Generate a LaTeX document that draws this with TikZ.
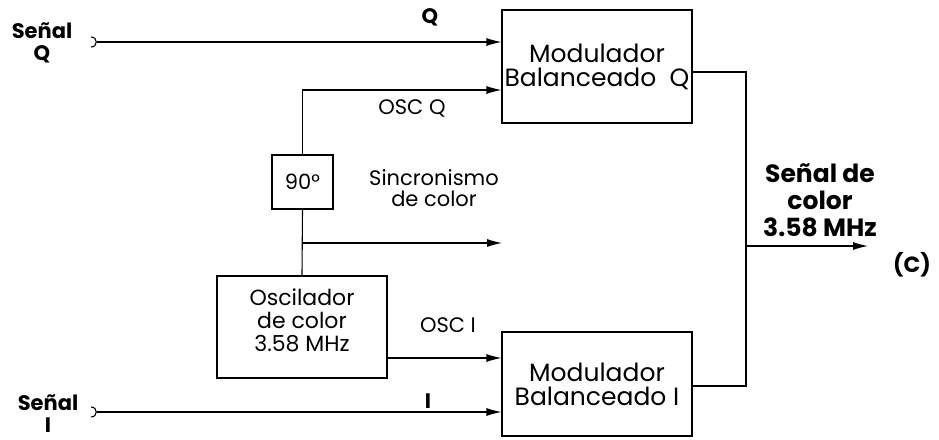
\documentclass[tikz,border=0pt]{standalone}
\usepackage{fontspec}
\setmainfont{Poppins}
\usetikzlibrary{arrows.meta,calc}

\tikzset{
  blk/.style={draw, line width=1.1pt, inner sep=0pt, align=center},
  sig/.style={line width=1.1pt, -{Latex[length=15pt,width=8pt]}},
  wire/.style={line width=1.1pt},
  lbl/.style={inner sep=0pt, align=center, font=\fontsize{21}{21}\selectfont},
  blbl/.style={inner sep=0pt, align=center, font=\fontsize{21}{22}\selectfont\bfseries},
}

\begin{document}
\begin{tikzpicture}[x=1pt,y=-1pt]
    \useasboundingbox (0,0) rectangle (939,439);

    % bloques
    \node[blk, minimum width=190pt, minimum height=113pt, font=\fontsize{25}{24}\selectfont] (modQ) at (597,66.5) {Modulador\\Balanceado~~Q};
    \node[blk, minimum width=190pt, minimum height=104pt, font=\fontsize{25}{24}\selectfont] (modI) at (597,384) {Modulador\\Balanceado I};
    \node[blk, minimum width=170pt, minimum height=102pt] (osc) at (302,327) {};
    \node[lbl, font=\fontsize{22}{23}\selectfont] (osct) at (302,320) {Oscilador\\de color\\3.58 MHz};
    \node[blk, minimum width=61pt, minimum height=54pt, font=\fontsize{21}{21}\selectfont] (ph) at (302.5,182) {90\textdegree};

    % puntos
    \coordinate (inQ) at (97,42);
    \coordinate (inI) at (97,412);
    \coordinate (oscQ) at ($(modQ.west)+(0,23.5)$);
    \coordinate (br) at (302.5,243);
    \coordinate (sync) at (502,243);
    \coordinate (oscI) at ($(osc.east)+(0,31)$);
    \coordinate (outQ) at ($(modQ.east)+(0,5.5)$);
    \coordinate (outI) at ($(modI.east)+(0,2)$);
    \coordinate (sum) at (746,246);
    \coordinate (out) at (868,246);

    % terminales de entrada
    \draw[wire] (inQ) ++(-6,-5) to[out=0,in=0,looseness=1.8] ++(0,10);
    \draw[wire] (inI) ++(-6,-5) to[out=0,in=0,looseness=1.8] ++(0,10);

    % conexiones
    \draw[sig] (inQ) -- (inQ -| modQ.west);
    \draw[sig] (ph.north) |- (oscQ);
    \draw[wire] (ph.south) -- (osc.north);
    \draw[sig] (br) -- (sync);
    \draw[sig] (oscI) -- (oscI -| modI.west);
    \draw[sig] (inI) -- (inI -| modI.west);
    \draw[wire] (outQ) -| (sum) |- (outI);
    \draw[sig] (sum) -- (out);

    % etiquetas
    \node[blbl] (senQ) at (42,43) {Señal\\Q};
    \node[blbl] (senI) at (48,414) {Señal\\I};
    \node[blbl] (lQ) at (430,17) {Q};
    \node[blbl] (lI) at (428,401) {I};
    \node[lbl] (loscQ) at (412,108) {OSC Q};
    \node[lbl] (loscI) at (448,325) {OSC I};
    \node[lbl] (lsync) at (434,188) {Sincronismo\\de color};
    \node[blbl, font=\fontsize{25}{27}\selectfont\bfseries] (lout) at (820,200) {Señal de\\color\\3.58 MHz};
    \node[blbl, font=\fontsize{22}{22}\selectfont\bfseries] (lC) at (912,265) {(C)};
\end{tikzpicture}
\end{document}
